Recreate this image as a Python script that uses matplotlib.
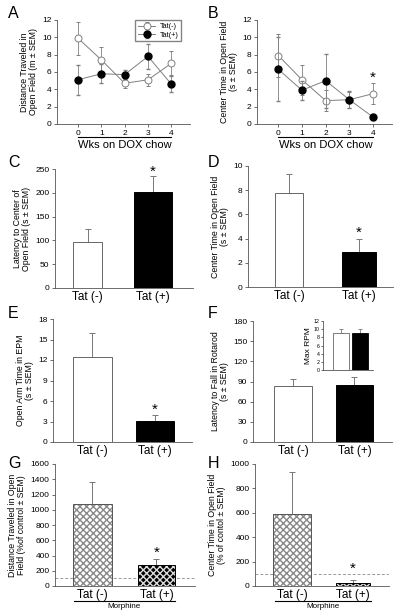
import matplotlib
matplotlib.use("Agg")
import matplotlib.pyplot as plt
import numpy as np
from matplotlib.transforms import blended_transform_factory

plt.rcParams['font.family'] = ['Liberation Sans', 'DejaVu Sans']

# ---- data ----
weeks = [0, 1, 2, 3, 4]
A_neg = [9.9, 7.4, 4.7, 5.1, 7.0]
A_neg_err = [1.9, 1.5, 0.5, 0.7, 1.4]
A_pos = [5.1, 5.8, 5.7, 7.8, 4.6]
A_pos_err = [1.7, 1.1, 0.5, 1.4, 0.9]
B_neg = [7.9, 5.1, 2.7, 2.8, 3.5]
B_neg_err = [2.5, 1.7, 1.2, 0.9, 1.2]
B_pos = [6.3, 3.9, 5.0, 2.8, 0.8]
B_pos_err = [3.7, 1.1, 3.1, 1.0, 0.3]

groups = ["Tat (-)", "Tat (+)"]
C_vals = [96, 201]; C_err = [29, 34]
D_vals = [7.8, 2.9]; D_err = [1.5, 1.1]
E_vals = [12.4, 3.1]; E_err = [3.6, 0.8]
F_vals = [84, 85]; F_err = [10, 11]
F_inset_vals = [9.0, 9.0]; F_inset_err = [1.1, 1.1]
G_vals = [1070, 275]; G_err = [290, 75]
H_vals = [590, 27]; H_err = [345, 22]

W, H = 405, 612
fig = plt.figure(figsize=(W/100, H/100), dpi=100)

def axpx(x0, x1, ytop, ybot):
    return fig.add_axes([x0/W, 1-ybot/H, (x1-x0)/W, (ybot-ytop)/H])

SP = '#555555'
TICKFS = 6
LABFS = 6.3

def style(ax):
    for s in ['top', 'right']:
        ax.spines[s].set_visible(False)
    for s in ['left', 'bottom']:
        ax.spines[s].set_linewidth(0.6)
        ax.spines[s].set_color(SP)
    ax.tick_params(axis='both', labelsize=TICKFS, width=0.6, length=2.5, color=SP, pad=1.5)

def letter(x, y, t):
    fig.text(x/W, 1-y/H, t, fontsize=11.5, ha='left', va='center')

# ---- A & B ----
def line_panel(ax, neg, negerr, pos, poserr, ylabel, legend=False):
    style(ax)
    ax.errorbar(weeks, neg, yerr=negerr, color='#808080', lw=0.7, capsize=1.5, elinewidth=0.6,
                marker='o', ms=5, mfc='white', mec='#808080', mew=0.7, label='Tat(-)', zorder=3)
    ax.errorbar(weeks, pos, yerr=poserr, color='#808080', lw=0.7, capsize=1.5, elinewidth=0.6,
                marker='o', ms=5, mfc='black', mec='black', label='Tat(+)', zorder=4)
    ax.set_ylim(0, 12)
    ax.set_yticks(range(0, 13, 2))
    ax.set_xlim(-0.9, 4.8)
    ax.set_xticks(weeks)
    ax.set_ylabel(ylabel, fontsize=LABFS, labelpad=3, linespacing=1.0)
    tr = blended_transform_factory(ax.transData, ax.transAxes)
    ax.plot([0, 4], [-0.125, -0.125], transform=tr, color='black', lw=0.8, clip_on=False)
    ax.text(2, -0.2, 'Wks on DOX chow', transform=tr, ha='center', va='center', fontsize=8)
    if legend:
        ax.legend(loc='upper right', fontsize=5.2, frameon=True, fancybox=False, edgecolor='#666666',
                  handlelength=2.4, borderpad=0.35, labelspacing=0.25, handletextpad=0.6,
                  bbox_to_anchor=(0.96, 1.03))

axA = axpx(57, 190, 20, 124)
line_panel(axA, A_neg, A_neg_err, A_pos, A_pos_err,
           'Distance Traveled in\nOpen Field (m \u00b1 SEM)', legend=True)
letter(8, 14, 'A')

axB = axpx(257, 392, 20, 124)
line_panel(axB, B_neg, B_neg_err, B_pos, B_pos_err,
           'Center Time in Open Field\n(s \u00b1 SEM)')
axB.text(4, 5.3, '*', ha='center', va='center', fontsize=11)
letter(208, 14, 'B')

# ---- bar panels ----
def bar_panel(ax, vals, err, ylim, yticks, ylabel, xlim, widths, star=None, hatch=False, tickfs=8.5):
    style(ax)
    x = np.arange(len(vals))
    if not hatch:
        ax.bar(x, vals, width=widths, color=['white', 'black'], edgecolor=['#666666', 'black'],
               linewidth=0.7, zorder=2)
    else:
        ax.bar(x[0], vals[0], width=widths[0], color='white', edgecolor='#888888', hatch='xxxxx',
               linewidth=0, zorder=2)
        ax.bar(x[1], vals[1], width=widths[1], color='black', edgecolor='#dddddd', hatch='xxxxx',
               linewidth=0, zorder=2)
        ax.bar(x, vals, width=widths, fill=False, edgecolor=['#555555', 'black'], linewidth=0.7, zorder=3)
    ax.errorbar(x, vals, yerr=[np.zeros(len(vals)), err], fmt='none', ecolor='#777777',
                elinewidth=0.7, capsize=2.5, capthick=0.7, zorder=1)
    ax.set_ylim(*ylim)
    ax.set_yticks(yticks)
    ax.set_xlim(*xlim)
    ax.set_xticks(x)
    ax.set_xticklabels(groups, fontsize=tickfs)
    ax.tick_params(axis='x', length=0, pad=2)
    ax.set_ylabel(ylabel, fontsize=LABFS, labelpad=3, linespacing=1.0)
    if star is not None:
        ax.text(star[0], star[1], '*', ha='center', va='center', fontsize=11)

axC = axpx(55, 193, 169, 288)
bar_panel(axC, C_vals, C_err, (0, 250), range(0, 251, 50),
          'Latency to Center of\nOpen Field (s \u00b1 SEM)', (-0.5, 1.61), [0.44, 0.57], star=(1, 245))
letter(8, 163, 'C')

axD = axpx(248, 393, 166, 287)
bar_panel(axD, D_vals, D_err, (0, 10), range(0, 11, 2),
          'Center Time in Open Field\n(s \u00b1 SEM)', (-0.59, 1.49), [0.4, 0.49], star=(1, 4.5))
letter(208, 163, 'D')

axE = axpx(53, 192, 319, 442)
bar_panel(axE, E_vals, E_err, (0, 18), range(0, 19, 3),
          'Open Arm Time in EPM\n(s \u00b1 SEM)', (-0.63, 1.59), [0.61, 0.61], star=(1, 4.7))
letter(8, 313, 'E')

axF = axpx(253, 392, 321, 442)
bar_panel(axF, F_vals, F_err, (0, 180), range(0, 181, 30),
          'Latency to Fall in Rotarod\n(s \u00b1 SEM)', (-0.65, 1.61), [0.61, 0.61])
letter(208, 313, 'F')

axFi = axpx(323, 373, 321, 370)
style(axFi)
xi = np.arange(2)
axFi.bar(xi, F_inset_vals, width=0.85, color=['white', 'black'], edgecolor=['#666666', 'black'],
         linewidth=0.6, zorder=2)
axFi.errorbar(xi, F_inset_vals, yerr=[np.zeros(2), F_inset_err], fmt='none', ecolor='#777777',
              elinewidth=0.6, capsize=1.5, capthick=0.6, zorder=1)
axFi.set_ylim(0, 12)
axFi.set_yticks(range(0, 13, 2))
axFi.set_xlim(-0.97, 1.7)
axFi.set_xticks([])
axFi.tick_params(axis='y', labelsize=3.8, length=1.5, pad=1)
axFi.set_ylabel('Max RPM', fontsize=6, labelpad=1)

axG = axpx(55, 195, 464, 586)
bar_panel(axG, G_vals, G_err, (0, 1600), range(0, 1601, 200),
          'Distance Traveled in Open\nField (%of control \u00b1 SEM)', (-0.58, 1.6), [0.6, 0.58],
          star=(1, 430), hatch=True)
axG.axhline(100, color='#999999', lw=0.7, ls=(0, (3, 2)), zorder=0)
letter(8, 463, 'G')

axH = axpx(255, 389, 464, 586)
bar_panel(axH, H_vals, H_err, (0, 1000), range(0, 1001, 200),
          'Center Time in Open Field\n(% of contol \u00b1 SEM)', (-0.61, 1.59), [0.62, 0.56],
          star=(1, 140), hatch=True)
axH.axhline(100, color='#999999', lw=0.7, ls=(0, (3, 2)), zorder=0)
letter(208, 463, 'H')

for ax in (axG, axH):
    tr = blended_transform_factory(ax.transData, ax.transAxes)
    ax.plot([-0.28, 1.29], [-0.123, -0.123], transform=tr, color='black', lw=0.8, clip_on=False)
    ax.text(0.5, -0.17, 'Morphine', transform=tr, ha='center', va='center', fontsize=5.8)

fig.savefig('out.png', dpi=100)
